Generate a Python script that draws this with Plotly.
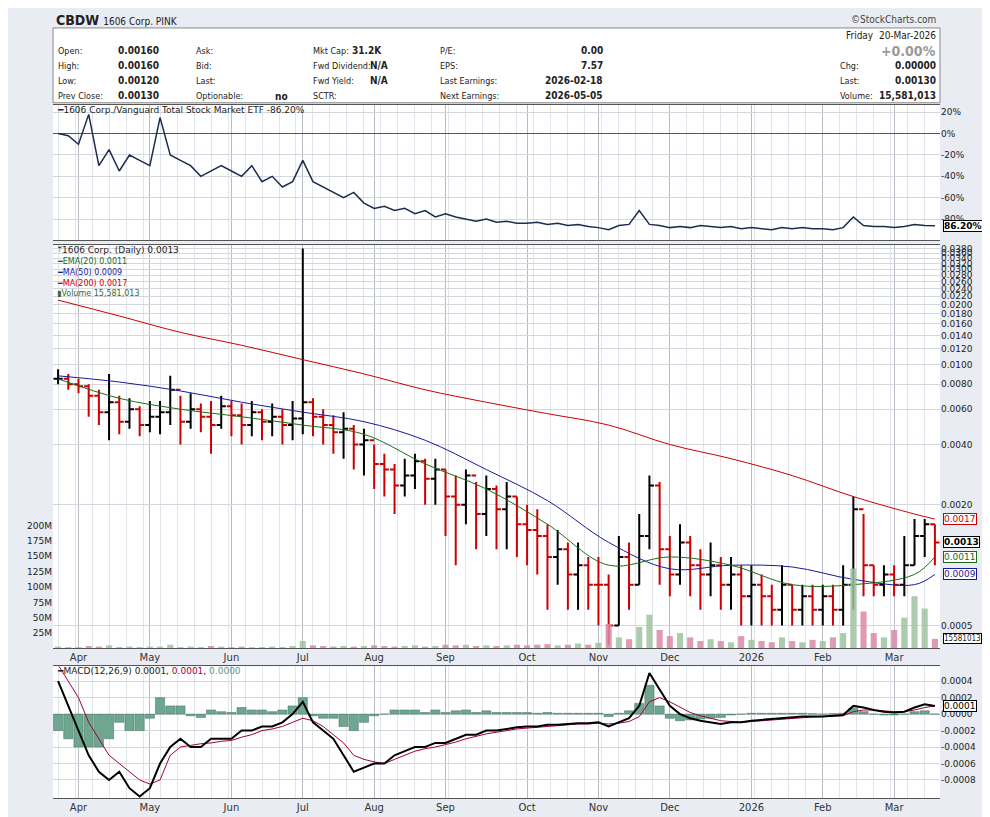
import math
import plotly.graph_objects as go
import pandas as pd

# ---- data (every 3rd trading day, 21-Mar-2025 .. 20-Mar-2026) ----
close = [0.0085, 0.0080, 0.0078,
         0.0070, 0.0058, 0.0065, 0.0052, 0.0060, 0.0050, 0.0055,
         0.0058, 0.0075, 0.0052, 0.0060, 0.0055, 0.0050, 0.0062,
         0.0056, 0.0050, 0.0058, 0.0052, 0.0055, 0.0050, 0.0054,
         0.0065, 0.0055, 0.0050, 0.0046, 0.0048, 0.0040, 0.0042, 0.0032,
         0.0030, 0.0025, 0.0028, 0.0033, 0.0027, 0.0030, 0.0022,
         0.0020, 0.0028, 0.0018, 0.0024, 0.0019, 0.0022, 0.0016,
         0.0015, 0.0014, 0.0011, 0.0012, 0.0009, 0.0010, 0.0008, 0.0008,
         0.0005, 0.0011, 0.0008, 0.0014, 0.0025, 0.0012, 0.0009,
         0.0013, 0.0010, 0.0009, 0.0010, 0.0008, 0.0009, 0.0007,
         0.0008, 0.0007, 0.0006, 0.0008, 0.0006, 0.0007, 0.0006,
         0.0007, 0.0006, 0.0008, 0.0019, 0.0010, 0.0008, 0.0009,
         0.0008, 0.0010, 0.0014, 0.0016, 0.0013]
high = [0.0095, 0.0090, 0.0085,
        0.0080, 0.0075, 0.0090, 0.0070, 0.0068, 0.0062, 0.0066,
        0.0066, 0.0088, 0.0070, 0.0072, 0.0064, 0.0066, 0.0070,
        0.0066, 0.0064, 0.0066, 0.0060, 0.0064, 0.0060, 0.0066,
        0.0380, 0.0068, 0.0060, 0.0056, 0.0058, 0.0050, 0.0048, 0.0040,
        0.0036, 0.0032, 0.0034, 0.0036, 0.0034, 0.0034, 0.0030,
        0.0028, 0.0030, 0.0026, 0.0028, 0.0025, 0.0026, 0.0022,
        0.0020, 0.0019, 0.0016, 0.0015, 0.0013, 0.0013, 0.0011, 0.0011,
        0.0009, 0.0014, 0.0013, 0.0018, 0.0028, 0.0026, 0.0014,
        0.0016, 0.0014, 0.0012, 0.0013, 0.0011, 0.0011, 0.0010,
        0.0010, 0.0009, 0.0008, 0.0010, 0.0008, 0.0008, 0.0008,
        0.0008, 0.0008, 0.0010, 0.0022, 0.0018, 0.0010, 0.0010,
        0.0010, 0.0014, 0.0017, 0.0017, 0.0016]
low = [0.0080, 0.0075, 0.0072,
       0.0055, 0.0050, 0.0042, 0.0045, 0.0048, 0.0044, 0.0046,
       0.0045, 0.0050, 0.0040, 0.0048, 0.0046, 0.0036, 0.0048,
       0.0044, 0.0040, 0.0044, 0.0042, 0.0044, 0.0040, 0.0042,
       0.0045, 0.0044, 0.0040, 0.0036, 0.0034, 0.0030, 0.0028, 0.0024,
       0.0022, 0.0018, 0.0022, 0.0024, 0.0020, 0.0020, 0.0014,
       0.0010, 0.0016, 0.0012, 0.0014, 0.0012, 0.0012, 0.0011,
       0.0010, 0.0009, 0.0006, 0.0008, 0.0006, 0.0006, 0.0006, 0.0005,
       0.0004, 0.0005, 0.0006, 0.0008, 0.0012, 0.0008, 0.0007,
       0.0008, 0.0007, 0.0006, 0.0007, 0.0006, 0.0006, 0.0005,
       0.0005, 0.0005, 0.0005, 0.0005, 0.0005, 0.0005, 0.0005,
       0.0005, 0.0005, 0.0005, 0.0006, 0.0007, 0.0007, 0.0007,
       0.0007, 0.0007, 0.0010, 0.0011, 0.0010]
volume_m = [3, 2, 2,
            4, 3, 5, 2, 3, 2, 3,
            3, 6, 2, 3, 2, 4, 3,
            2, 3, 2, 2, 3, 2, 4,
            12, 5, 4, 3, 4, 3, 4, 5,
            4, 3, 4, 5, 3, 4, 6,
            5, 6, 4, 5, 4, 5, 6,
            5, 6, 7, 5, 6, 8, 6, 9,
            40, 18, 15, 35, 55, 30, 20,
            25, 18, 12, 15, 12, 10, 20,
            14, 12, 10, 18, 12, 10, 14,
            12, 18, 25, 130, 60, 25, 18,
            30, 50, 85, 65, 15.58]
rel_strength = [0, -2, -10,
                18, -30, -15, -35, -20, -25, -30,
                15, -20, -25, -30, -40, -35, -30,
                -35, -40, -30, -45, -40, -50, -45,
                -25, -45, -50, -55, -60, -55, -65, -70,
                -68, -72, -70, -75, -72, -78, -75,
                -78, -80, -82, -80, -83, -82, -84,
                -84, -83, -85, -84, -86, -85, -87, -88,
                -90, -86, -85, -72, -85, -86, -88,
                -87, -88, -86, -87, -88, -87, -89,
                -88, -89, -90, -88, -89, -88, -89,
                -89, -90, -88, -78, -86, -87, -87,
                -88, -87, -85, -86, -86.2]
macd_e4 = [4, 1, -2,
           -5, -7, -8, -7, -9, -10, -9,
           -6, -4, -3, -4, -4, -3, -3,
           -3, -2, -2, -1.5, -1.5, -1, 0,
           1.5, -1, -2, -3, -5, -7, -6.5, -6,
           -6, -5, -4.5, -4, -4, -3.5, -3.5,
           -3, -2.5, -2.5, -2, -2, -1.8, -1.6,
           -1.5, -1.5, -1.3, -1.3, -1.2, -1.1, -1.1, -1.0,
           -1.5, -1, -0.5, 1, 5, 3, 1,
           0, -0.5, -0.8, -1, -1.2, -1, -1,
           -0.8, -0.7, -0.6, -0.5, -0.4, -0.3, -0.3,
           -0.3, -0.2, -0.1, 1, 0.8, 0.5, 0.3,
           0.2, 0.3, 0.8, 1.2, 1]
signal_e4 = [6, 4, 2,
             -1, -3, -5, -6, -7, -8, -8.5,
             -8, -5, -4, -3.8, -3.6, -3.5, -3.3,
             -3.2, -2.8, -2.5, -2, -1.8, -1.5, -1,
             -0.5, -0.8, -1.5, -2.5, -3.5, -5, -5.5, -5.8,
             -6, -5.5, -5, -4.5, -4.2, -4, -3.7,
             -3.4, -3, -2.7, -2.4, -2.2, -2, -1.8,
             -1.7, -1.6, -1.5, -1.4, -1.3, -1.2, -1.2, -1.1,
             -1.2, -1.1, -0.9, -0.3, 1.5, 2, 1.5,
             0.8, 0.2, -0.2, -0.5, -0.8, -0.9, -1,
             -0.9, -0.8, -0.7, -0.6, -0.5, -0.4, -0.35,
             -0.3, -0.25, -0.2, 0.3, 0.5, 0.5, 0.4,
             0.3, 0.3, 0.5, 0.8, 1]

# moving averages, sampled at every 6th bar
ma_idx = [0, 6, 12, 18, 24, 30, 36, 42, 48, 54, 60, 66, 72, 78, 84, 86]
ma200 = [0.0210, 0.0175, 0.0145, 0.0125, 0.0106, 0.0090, 0.0075, 0.0065,
         0.0057, 0.0050, 0.0040, 0.0034, 0.0028, 0.0022, 0.0018, 0.0017]
ma50 = [0.0088, 0.0082, 0.0074, 0.0065, 0.0058, 0.0052, 0.0042, 0.0030,
        0.0021, 0.0013, 0.00096, 0.0010, 0.00098, 0.00085, 0.0008, 0.0009]
ema20 = [0.0085, 0.0068, 0.0060, 0.0055, 0.0050, 0.0045, 0.0032, 0.0024,
         0.0016, 0.0010, 0.0011, 0.0010, 0.0008, 0.0008, 0.0009, 0.0011]

month_labels = ["Apr", "May", "Jun", "Jul", "Aug", "Sep", "Oct", "Nov",
                "Dec", "2026", "Feb", "Mar"]

bdays = pd.bdate_range("2025-03-21", "2026-03-20")
dates = bdays[(len(bdays) - 1) % 3::3]
n = len(dates)
x = list(range(n))
opens = [close[0]] + close[:-1]
month_ticks = []
for i in range(1, n):
    if dates[i].month != dates[i - 1].month:
        month_ticks.append(i)

W, H = 990, 817
L, R = 45, 932
FONT = "DejaVu Sans Condensed"
DV = "DejaVu Sans"


def px(xp):
    return (xp - L) / (R - L)


def py(yp):
    return 1 - yp / H


RED = "#cc0000"
GREEN = "#1a6e1a"
BLUE = "#1a1a99"
MACD_RED = "#a0003c"
HIST = "#6fa690"

fig = go.Figure()

# relative strength
fig.add_trace(go.Scatter(x=x, y=rel_strength, mode="lines",
                         line=dict(color="#1c2b4f", width=1.5),
                         xaxis="x", yaxis="y", showlegend=False))

# volume
vol_col = ["#d98aa5" if c < o else "#9fc29f" for c, o in zip(close, opens)]
fig.add_trace(go.Bar(x=x, y=[v * 1e6 for v in volume_m], marker_color=vol_col,
                     marker_line_width=0, opacity=0.85, width=0.6,
                     xaxis="x2", yaxis="y4", showlegend=False))
# price
fig.add_trace(go.Ohlc(x=x, open=opens, high=high, low=low, close=close,
                      increasing_line_color="black", decreasing_line_color=RED,
                      line_width=2, tickwidth=0.45,
                      xaxis="x2", yaxis="y2", showlegend=False))
for vals, col in [(ma200, RED), (ma50, BLUE), (ema20, GREEN)]:
    fig.add_trace(go.Scatter(x=ma_idx, y=vals, mode="lines",
                             line=dict(color=col, width=1, shape="spline"),
                             xaxis="x2", yaxis="y2", showlegend=False))

# macd
hist = [m - s for m, s in zip(macd_e4, signal_e4)]
fig.add_trace(go.Bar(x=x, y=[h * 1e-4 for h in hist], marker_color=HIST,
                     marker_line=dict(color="#3d6e5a", width=0.5), width=0.9,
                     xaxis="x3", yaxis="y3", showlegend=False))
fig.add_trace(go.Scatter(x=x, y=[s * 1e-4 for s in signal_e4], mode="lines",
                         line=dict(color=MACD_RED, width=1),
                         xaxis="x3", yaxis="y3", showlegend=False))
fig.add_trace(go.Scatter(x=x, y=[m * 1e-4 for m in macd_e4], mode="lines",
                         line=dict(color="black", width=2),
                         xaxis="x3", yaxis="y3", showlegend=False))

xcommon = dict(range=[-0.5, n - 0.5], tickvals=month_ticks, ticktext=month_labels,
               showgrid=True, gridcolor="#b8bcc4", gridwidth=1,
               minor=dict(dtick=5 / 3, showgrid=True, gridcolor="#e2e5ea"),
               zeroline=False, showline=True, linecolor="#555", mirror=True,
               tickfont=dict(size=10, color="#333"), ticks="",
               rangeslider=dict(visible=False))

price_ticks = [0.0005, 0.002, 0.004, 0.006, 0.008, 0.010, 0.012, 0.014, 0.016,
               0.018, 0.020, 0.022, 0.024, 0.026, 0.028, 0.030, 0.032, 0.034,
               0.036, 0.038]

fig.update_layout(
    width=W, height=H,
    margin=dict(l=L, r=W - R, t=0, b=0),
    paper_bgcolor="#e9ecf2", plot_bgcolor="white",
    font=dict(family=DV, size=10, color="#222"),
    xaxis=dict(xcommon, domain=[0, 1], anchor="y", showticklabels=False),
    xaxis2=dict(xcommon, domain=[0, 1], anchor="y2", matches="x"),
    xaxis3=dict(xcommon, domain=[0, 1], anchor="y3", matches="x"),
    yaxis=dict(domain=[py(231), py(95)], range=[-100, 27], side="right",
               tickvals=[20, 0, -20, -40, -60, -80],
               ticktext=["20%", "0%", "-20%", "-40%", "-60%", "-80%"],
               gridcolor="#d4d8de", zeroline=True, zerolinecolor="#555",
               zerolinewidth=1, tickfont=dict(size=9)),
    yaxis2=dict(domain=[py(640), py(236)], type="log",
                range=[-3.415, -1.405], side="right",
                tickvals=price_ticks, ticktext=[f"{t:.4f}" for t in price_ticks],
                gridcolor="#d4d8de", zeroline=False, tickfont=dict(size=9)),
    yaxis4=dict(overlaying="y2", range=[0, 656e6], side="left",
                tickvals=[25e6, 50e6, 75e6, 100e6, 125e6, 150e6, 175e6, 200e6],
                ticktext=["25M", "50M", "75M", "100M", "125M", "150M", "175M", "200M"],
                showgrid=False, zeroline=False, tickfont=dict(size=9)),
    yaxis3=dict(domain=[py(790), py(658)], range=[-0.00102, 0.00058], side="right",
                tickvals=[0.0004, 0.0002, 0, -0.0002, -0.0004, -0.0006, -0.0008],
                ticktext=["0.0004", "0.0002", "0.0000", "-0.0002", "-0.0004",
                          "-0.0006", "-0.0008"],
                gridcolor="#d4d8de", zeroline=False, tickfont=dict(size=9)),
)

ann = []


def text(xp, yp, s, anchor="left", size=10, color="#222", bold=False, family=FONT):
    ann.append(dict(xref="paper", yref="paper", x=px(xp), y=py(yp),
                    text=f"<b>{s}</b>" if bold else s, showarrow=False,
                    xanchor=anchor, yanchor="middle",
                    font=dict(size=size, color=color, family=family)))


text(46, 10, "<b>CBDW</b> <span style='font-size:10px'>1606 Corp. PINK</span>", size=14)
text(930, 10, "©StockCharts.com", anchor="right", size=10, color="#444")
text(930, 26, "Friday  20-Mar-2026", anchor="right", size=10)
text(930, 41, "+0.00%", anchor="right", size=14, color="#999", bold=True)
rows_y = [41, 56, 71, 86]
col1 = [("Open:", "0.00160"), ("High:", "0.00160"), ("Low:", "0.00120"),
        ("Prev Close:", "0.00130")]
for y0, (k, v) in zip(rows_y, col1):
    text(48, y0, k, size=9)
    text(153, y0, v, anchor="right", size=10, bold=True)
for y0, k in zip(rows_y, ["Ask:", "Bid:", "Last:", "Optionable:"]):
    text(186, y0, k, size=9)
text(282, 87, "no", anchor="right", size=10, bold=True)
col3 = [("Mkt Cap:", "31.2K", 376), ("Fwd Dividend:", "N/A", 382),
        ("Fwd Yield:", "N/A", 382), ("SCTR:", "", 382)]
for y0, (k, v, xr) in zip(rows_y, col3):
    text(303, y0, k, size=9)
    text(xr, y0, v, anchor="right", size=10, bold=True)
col4 = [("P/E:", "0.00"), ("EPS:", "7.57"), ("Last Earnings:", "2026-02-18"),
        ("Next Earnings:", "2026-05-05")]
for y0, (k, v) in zip(rows_y, col4):
    text(430, y0, k, size=9)
    text(597, y0, v, anchor="right", size=10, bold=True)
col5 = [("Chg:", "0.00000"), ("Last:", "0.00130"), ("Volume:", "15,581,013")]
for y0, (k, v) in zip(rows_y[1:], col5):
    text(830, y0, k, size=9)
    text(930, y0, v, anchor="right", size=10, bold=True)

# panel legends
text(47, 100, "<span style='color:#1c2b4f'>━</span>1606 Corp./Vanguard Total Stock Market ETF -86.20%", size=9, family=DV)
text(47, 241, "ᛘ1606 Corp. (Daily) 0.0013", size=9, family=DV)
text(47, 252, "<span style='color:#1a6e1a'>━EMA(20) 0.0011</span>", size=8, family=DV)
text(47, 263, "<span style='color:#1a1a99'>━MA(50) 0.0009</span>", size=8, family=DV)
text(47, 274, "<span style='color:#cc0000'>━MA(200) 0.0017</span>", size=8, family=DV)
text(47, 284, "<span style='color:#2f6e2f'>▮Volume 15,581,013</span>", size=8, family=DV)
text(47, 663, "━MACD(12,26,9) 0.0001, <span style='color:#a0003c'>0.0001</span>, "
     "<span style='color:#5f9a87'>0.0000</span>", size=9, family=DV)


# last-value boxes on the right
def tag(yref, yv, s, col, bold=False):
    ann.append(dict(xref="paper", yref=yref, x=1.003, y=yv,
                    text=f"<b>{s}</b>" if bold else s,
                    showarrow=False, xanchor="left", yanchor="middle",
                    bordercolor=col, borderwidth=1, borderpad=0, bgcolor="white",
                    font=dict(size=9, color=col, family=DV)))


tag("y", rel_strength[-1], "86.20%", "black", bold=True)
tag("y2", math.log10(ma200[-1]), "0.0017", RED)
tag("y2", math.log10(close[-1]), "0.0013", "black", bold=True)
tag("y2", math.log10(ema20[-1]), "0.0011", GREEN)
tag("y2", math.log10(ma50[-1]), "0.0009", BLUE)
tag("y3", macd_e4[-1] * 1e-4, "0.0001", "black")
ann.append(dict(xref="paper", yref="y4", x=1.003, y=volume_m[-1] * 1e6, text="15581013",
                showarrow=False, xanchor="left", yanchor="middle", bordercolor="black",
                borderwidth=1, borderpad=0, bgcolor="white",
                font=dict(size=8, family=FONT)))
fig.update_layout(annotations=ann)

fig.add_shape(type="rect", xref="paper", yref="paper", x0=0, x1=1, y0=py(93), y1=py(18),
              fillcolor="white", line=dict(color="#888", width=1), layer="below")

fig.write_html("out.html")
